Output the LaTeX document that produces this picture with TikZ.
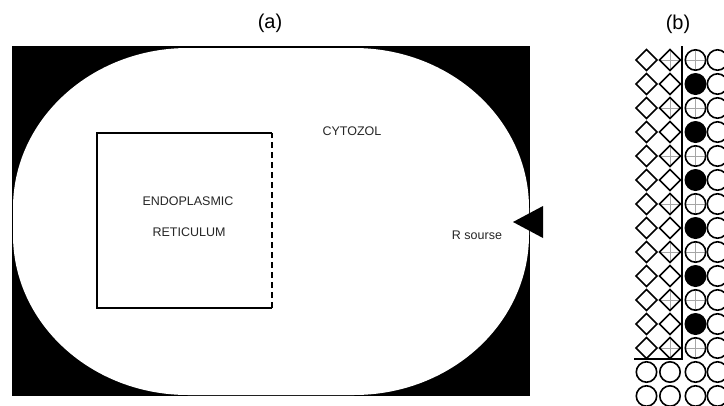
\documentclass[tikz,border=0pt]{standalone}
\usepackage{fontspec}
\setmainfont{Liberation Sans}
\begin{document}
\begin{tikzpicture}[x=1pt,y=-1pt,
  lbl/.style={font=\fontsize{12.5}{14}\selectfont, text=black!85, inner sep=0pt},
  ttl/.style={font=\fontsize{20}{24}\selectfont, inner sep=0pt},
  shp/.style={line width=1.6pt},
  xline/.style={gray!70, line width=0.6pt},
  corner/.style={x radius=175pt, y radius=160pt}]
\useasboundingbox (0,0) rectangle (724,405);
% panel (a)
\fill[black] (12,46) rectangle (530,396);
\fill[white] (13,208) arc[start angle=180,end angle=90,corner] -- (354,48)
  arc[start angle=90,end angle=0,corner] -- (529,235)
  arc[start angle=0,end angle=-90,corner] -- (188,395)
  arc[start angle=-90,end angle=-180,corner] -- cycle;
\fill[black] (513,222) -- (543,206) -- (543,238) -- cycle;
\draw[shp] (272,133) -- (97,133) -- (97,308) -- (272,308);
\draw[shp, dash pattern=on 6pt off 4pt] (272,308) -- (272,133);
\node[lbl] (er1) at (188,201) {ENDOPLASMIC};
\node[lbl] (er2) at (189,232) {RETICULUM};
\node[lbl] (cyt) at (352,131) {CYTOZOL};
\node[lbl] (rs) at (477,235) {R sourse};
\node[ttl] (ta) at (270,23) {(a)};
\node[ttl] (tb) at (678,24) {(b)};
% panel (b)
\foreach \r in {1,...,13}{
  \pgfmathsetmacro\yy{36+24*\r}
  \draw[shp] (636,\yy) -- (646.5,\yy-10.5) -- (657,\yy) -- (646.5,\yy+10.5) -- cycle;
  \ifodd\r\relax
    \draw[xline] (659.5,\yy) -- (680.5,\yy) (670,\yy-10.5) -- (670,\yy+10.5);
    \draw[xline] (685.3,\yy) -- (705.7,\yy) (695.5,\yy-10.2) -- (695.5,\yy+10.2);
    \draw[shp] (695.5,\yy) circle[radius=10.2pt];
  \else
    \fill[black] (695.5,\yy) circle[radius=11pt];
  \fi
  \draw[shp] (659.5,\yy) -- (670,\yy-10.5) -- (680.5,\yy) -- (670,\yy+10.5) -- cycle;
  \draw[shp] (717.5,\yy) circle[radius=10.2pt];
}
\foreach \r in {14,15}{
  \pgfmathsetmacro\yy{36+24*\r}
  \foreach \xx in {646.5,670,695.5,717.5}{
    \draw[shp] (\xx,\yy) circle[radius=10.2pt];
  }
}
\draw[shp] (682,46) -- (682,359) -- (634,359);
\end{tikzpicture}
\end{document}
